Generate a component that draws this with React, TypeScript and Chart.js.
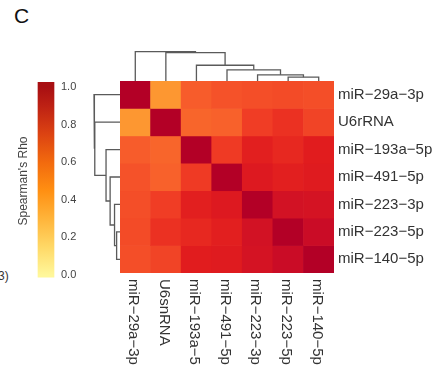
import React, { useEffect, useRef } from 'react';
import { Chart, registerables } from 'chart.js';

Chart.register(...registerables);

// ---- data ----
const colLabels = ['miR-29a-3p', 'U6snRNA', 'miR-193a-5', 'miR-491-5p', 'miR-223-3p', 'miR-223-5p', 'miR-140-5p'];
const rowLabels = ['miR-29a-3p', 'U6rRNA', 'miR-193a-5p', 'miR-491-5p', 'miR-223-3p', 'miR-223-5p', 'miR-140-5p'];

const rho_miR29a3p = [1.0, 0.44, 0.6, 0.63, 0.64, 0.65, 0.64];
const rho_U6 = [0.44, 1.0, 0.58, 0.59, 0.69, 0.73, 0.67];
const rho_miR193a5p = [0.6, 0.58, 1.0, 0.7, 0.79, 0.76, 0.8];
const rho_miR4915p = [0.63, 0.59, 0.7, 1.0, 0.82, 0.79, 0.81];
const rho_miR2233p = [0.64, 0.69, 0.79, 0.82, 1.0, 0.87, 0.86];
const rho_miR2235p = [0.65, 0.73, 0.76, 0.79, 0.87, 1.0, 0.91];
const rho_miR1405p = [0.64, 0.67, 0.8, 0.81, 0.86, 0.91, 1.0];
const rhoRows = [rho_miR29a3p, rho_U6, rho_miR193a5p, rho_miR4915p, rho_miR2233p, rho_miR2235p, rho_miR1405p];

// hierarchical clustering merges (leaf index >= 0, earlier merge k as -(k+1))
const mergeLeft = [5, 4, 3, 2, 1, 0];
const mergeRight = [6, -1, -2, -3, -4, -5];
const mergeHeight = [0.13, 0.21, 0.38, 0.537, 0.97, 1.0];

const colorbarTicks = [0, 0.2, 0.4, 0.6, 0.8, 1.0];

// ---- styles ----
const colorStops: [number, string][] = [
  [0.0, '#ffff9e'],
  [0.2, '#fed25c'],
  [0.4, '#fd9f35'],
  [0.5, '#fc8a2c'],
  [0.6, '#f75c2b'],
  [0.7, '#ef3a24'],
  [0.8, '#e11c1e'],
  [0.9, '#cc0d26'],
  [1.0, '#b30026'],
];
// colour bar as rendered in the figure
const colorbarStops: [number, string][] = [
  [0.0, '#fff79a'],
  [0.15, '#ffd866'],
  [0.3, '#ffb43a'],
  [0.45, '#ff8f12'],
  [0.6, '#f26a0e'],
  [0.75, '#dc4312'],
  [0.9, '#bd2114'],
  [1.0, '#a80f12'],
];
const FONT = '"Liberation Sans", Arial, sans-serif';
const HEAT_W = 214;
const HEAT_H = 192;
const COL_DENDRO_PX = 29.3;
const ROW_DENDRO_PX = 26;

const showLabel = (s: string) => s.replace(/-/g, '\u2212');

function hexToRgb(h: string) {
  const n = parseInt(h.slice(1), 16);
  return [(n >> 16) & 255, (n >> 8) & 255, n & 255];
}
function rhoColor(v: number) {
  const t = Math.max(0, Math.min(1, v));
  for (let i = 1; i < colorStops.length; i++) {
    const [v1, c1] = colorStops[i];
    if (t <= v1) {
      const [v0, c0] = colorStops[i - 1];
      const f = (t - v0) / (v1 - v0);
      const a = hexToRgb(c0), b = hexToRgb(c1);
      const m = a.map((x, k) => Math.round(x + (b[k] - x) * f));
      return `rgb(${m[0]},${m[1]},${m[2]})`;
    }
  }
  return colorStops[colorStops.length - 1][1];
}

function dendroPaths() {
  const pos: number[] = [];
  const ht: number[] = [];
  const paths: { p: number; h: number }[][] = [];
  const node = (c: number) => (c >= 0 ? { p: c + 0.5, h: 0 } : { p: pos[-c - 1], h: ht[-c - 1] });
  mergeHeight.forEach((h, k) => {
    const a = node(mergeLeft[k]);
    const b = node(mergeRight[k]);
    paths.push([
      { p: a.p, h: a.h },
      { p: a.p, h },
      { p: b.p, h },
      { p: b.p, h: b.h },
    ]);
    pos.push((a.p + b.p) / 2);
    ht.push(h);
  });
  return paths;
}

const colLabelPlugin = {
  id: 'colLabels',
  afterDraw(chart: any) {
    const { ctx, chartArea, scales } = chart;
    ctx.save();
    ctx.font = `15px ${FONT}`;
    ctx.fillStyle = '#333';
    ctx.textAlign = 'left';
    ctx.textBaseline = 'middle';
    colLabels.forEach((lab, i) => {
      const x = scales.x.getPixelForValue(i);
      ctx.save();
      ctx.translate(x - 2, chartArea.bottom + 6);
      ctx.rotate(Math.PI / 2);
      ctx.fillText(showLabel(lab), 0, 0);
      ctx.restore();
    });
    ctx.restore();
  },
};

export default function App() {
  const mainRef = useRef<HTMLCanvasElement>(null);
  const cbRef = useRef<HTMLCanvasElement>(null);

  useEffect(() => {
    document.body.style.margin = '0';
    const datasets: any[] = rhoRows.map((row, r) => ({
      type: 'bar',
      order: 2,
      data: row.map(() => [r, r + 1]),
      backgroundColor: row.map((v) => rhoColor(v)),
      borderWidth: 0,
      barPercentage: 1,
      categoryPercentage: 1,
      grouped: false,
      xAxisID: 'x',
      yAxisID: 'y',
    }));
    const lineStyle = {
      type: 'line',
      order: 0,
      borderColor: '#5a5a5a',
      borderWidth: 1.3,
      pointRadius: 0,
      fill: false,
      tension: 0,
      clip: false,
    };
    dendroPaths().forEach((path) => {
      datasets.push({ ...lineStyle, data: path.map((q) => ({ x: q.p, y: q.h })), xAxisID: 'xd', yAxisID: 'ydend' });
      datasets.push({ ...lineStyle, data: path.map((q) => ({ x: q.h, y: q.p })), xAxisID: 'xdend', yAxisID: 'yd' });
    });

    const hidden = { display: false, offset: false };
    const main = new Chart(mainRef.current!, {
      type: 'bar',
      data: { labels: colLabels, datasets },
      options: {
        responsive: false,
        animation: false,
        layout: { padding: { left: 40, top: 41, right: 0, bottom: 93 } },
        plugins: { legend: { display: false }, tooltip: { enabled: false } },
        scales: {
          x: { display: false, type: 'category', offset: true },
          xd: { ...hidden, type: 'linear', min: 0, max: 7 },
          xdend: { ...hidden, type: 'linear', reverse: true, min: -HEAT_W / ROW_DENDRO_PX, max: 0 },
          ydend: { ...hidden, type: 'linear', min: -HEAT_H / COL_DENDRO_PX, max: 0 },
          yd: { ...hidden, type: 'linear', reverse: true, min: 0, max: 7 },
          y: {
            type: 'linear',
            position: 'right',
            reverse: true,
            offset: false,
            min: 0,
            max: 7,
            grid: { display: false, drawTicks: false },
            border: { display: false },
            afterBuildTicks: (s: any) => {
              s.ticks = rowLabels.map((_, i) => ({ value: i + 0.5 }));
            },
            afterFit: (s: any) => {
              s.width = 111;
            },
            ticks: {
              autoSkip: false,
              padding: 4,
              color: '#333',
              font: { family: FONT, size: 15 },
              callback: (v: any) => showLabel(rowLabels[Math.floor(Number(v))] ?? ''),
            },
          },
        },
      } as any,
      plugins: [colLabelPlugin],
    } as any);

    const cb = new Chart(cbRef.current!, {
      type: 'bar',
      data: {
        labels: [''],
        datasets: [
          {
            data: [[-0.012, 1.025]],
            borderWidth: 0,
            barPercentage: 1,
            categoryPercentage: 1,
            clip: false,
            backgroundColor: (ctx: any) => {
              const chart = ctx.chart;
              const ys = chart.scales.y;
              if (!ys || !chart.chartArea) return rhoColor(0.5);
              const g = chart.ctx.createLinearGradient(0, ys.getPixelForValue(0), 0, ys.getPixelForValue(1));
              colorbarStops.forEach(([v, c]) => g.addColorStop(v, c));
              return g;
            },
          } as any,
        ],
      },
      options: {
        responsive: false,
        animation: false,
        layout: { padding: { top: 27, bottom: 25, left: 0, right: 0 } },
        plugins: { legend: { display: false }, tooltip: { enabled: false } },
        scales: {
          x: { display: false },
          y: {
            type: 'linear',
            position: 'right',
            min: 0,
            max: 1,
            grid: { display: false, drawTicks: false },
            border: { display: false },
            afterBuildTicks: (s: any) => {
              s.ticks = colorbarTicks.map((v) => ({ value: v }));
            },
            afterFit: (s: any) => {
              s.width = 46;
            },
            ticks: {
              padding: 7,
              color: '#444',
              font: { family: FONT, size: 11 },
              callback: (v: any) => Number(v).toFixed(1),
            },
          },
          yl: {
            type: 'linear',
            position: 'left',
            min: 0,
            max: 1,
            grid: { display: false, drawTicks: false },
            border: { display: false },
            ticks: { display: false },
            afterFit: (s: any) => {
              s.width = 38;
            },
            title: {
              display: true,
              text: "Spearman's Rho",
              color: '#444',
              font: { family: FONT, size: 12 },
              padding: { top: 16, bottom: 0 },
            },
          },
        },
      } as any,
    });

    return () => {
      main.destroy();
      cb.destroy();
    };
  }, []);

  return (
    <div style={{ position: 'fixed', left: 0, top: 0, width: 445, height: 366, overflow: 'hidden', background: '#fff' }}>
      <div style={{ position: 'absolute', left: 14, top: 5, font: `21px/21px ${FONT}`, color: '#111' }}>C</div>
      <div style={{ position: 'absolute', left: -6, top: 270, font: `12px/12px ${FONT}`, color: '#333', whiteSpace: 'nowrap' }}>(3)</div>
      <canvas ref={cbRef} width={100} height={240} style={{ position: 'absolute', left: 0, top: 60, width: 100, height: 240 }} />
      <canvas ref={mainRef} width={365} height={326} style={{ position: 'absolute', left: 80, top: 40, width: 365, height: 326 }} />
    </div>
  );
}
